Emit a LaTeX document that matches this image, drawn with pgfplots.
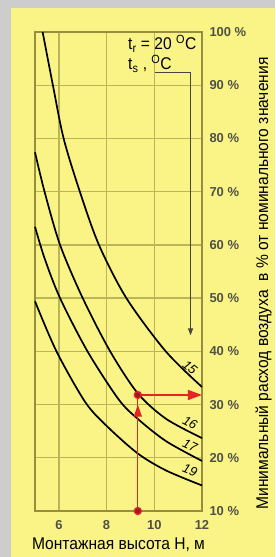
\documentclass[border=0pt]{standalone}
\usepackage{pgfplots}
\pgfplotsset{compat=1.18}
\usepackage{fontspec}
\setmainfont{Liberation Sans}
\newfontfamily\narrowfont[FakeStretch=0.92]{Liberation Sans}
\usetikzlibrary{arrows.meta,decorations.markings}
\definecolor{bggray}{RGB}{205,205,205}
\definecolor{bgyellow}{RGB}{249,244,133}
\definecolor{gridc}{RGB}{188,180,88}
\definecolor{framec}{RGB}{150,142,62}
\definecolor{tickc}{RGB}{80,80,70}
\definecolor{redc}{RGB}{226,38,38}
\definecolor{darkredc}{RGB}{160,25,40}
\definecolor{annc}{RGB}{70,70,60}

\begin{document}
\begin{tikzpicture}[x=1bp,y=1bp]
\fill[bggray] (0,0) rectangle (275,557);
\fill[bgyellow] (11,0) rectangle (275,549);
\path[use as bounding box] (0,0) rectangle (275,557);
\begin{axis}[
  at={(35bp,46bp)}, anchor=south west,
  scale only axis, width=167bp, height=479bp,
  xmin=5, xmax=12, ymin=10, ymax=100,
  xtick={6,8,10,12}, xticklabels={6,8,10,12},
  ytick={10,20,30,40,50,60,70,80,90,100},
  yticklabels={10 \%,20 \%,30 \%,40 \%,50 \%,60 \%,70 \%,80 \%,90 \%,100 \%},
  yticklabel pos=right,
  major tick length=0pt,
  grid=major, major grid style={gridc, line width=1.3bp},
  axis line style={framec, line width=1.6bp},
  tick label style={font=\fontsize{13}{15}\selectfont\bfseries, text=tickc},
  xticklabel style={anchor=base, yshift=-19bp},
  yticklabel style={anchor=west, xshift=4bp},
  /pgf/number format/assume math mode=true,
  clip=false,
]
% curves
\addplot[black, line width=1.7bp, smooth] coordinates {(5.32,100) (5.75,90) (6.2,80) (6.88,70) (7.68,60) (8.83,50) (10.48,40) (12,33.3)};
\addplot[black, line width=1.7bp, smooth] coordinates {(5,77.4) (5.4,70) (6.05,60) (7.0,50) (8.15,40) (9.31,32.1) (10.5,27.3) (12,23.7)};
\addplot[black, line width=1.7bp, smooth] coordinates {(5,63.4) (5.4,57.5) (6.05,50) (7.2,40) (8.5,31) (9.31,27.3) (10.5,23.1) (12,19.4)};
\addplot[black, line width=1.7bp, smooth] coordinates {(5,49.4) (5.9,40) (7.1,30.5) (8,26) (9.31,20.8) (10.5,17.6) (12,14.8)};
% curve labels
\node[rotate=-40, inner sep=0pt, font=\itshape\fontsize{13}{14}\selectfont] at (axis cs:11.5,37.0) {15};
\node[rotate=-28, inner sep=0pt, font=\itshape\fontsize{13}{14}\selectfont] at (axis cs:11.5,26.6) {16};
\node[rotate=-25, inner sep=0pt, font=\itshape\fontsize{13}{14}\selectfont] at (axis cs:11.5,22.3) {17};
\node[rotate=-22, inner sep=0pt, font=\itshape\fontsize{13}{14}\selectfont] at (axis cs:11.5,17.6) {19};
% annotation arrow
\addplot[annc, line width=1bp, -{Triangle[length=7bp,width=5bp]}] coordinates {(10.03,92.4) (11.52,92.4) (11.52,43.0)};
% red construction
\addplot[redc, line width=1.3bp, postaction={decorate},
  decoration={markings, mark=at position 0.917 with {\arrow{Triangle[length=12bp,width=8bp]}}}]
  coordinates {(9.31,10) (9.31,31.8)};
\addplot[redc, line width=1.3bp, -{Triangle[length=14bp,width=10bp]}] coordinates {(9.31,31.8) (12,31.8)};
\addplot[only marks, mark=*, mark size=3.5bp, mark options={draw=redc, fill=darkredc, line width=1.3bp}] coordinates {(9.31,10) (9.31,31.8)};
\end{axis}
% texts
\node[anchor=base west, inner sep=0, font=\narrowfont\fontsize{17}{19}\selectfont] at (128,507) {t\textsubscript{r} = 20 \textsuperscript{O}C};
\node[anchor=base west, inner sep=0, font=\narrowfont\fontsize{17}{19}\selectfont] at (128,487) {t\textsubscript{s} , \textsuperscript{O}C};
\node[anchor=base, inner sep=0, font=\narrowfont\fontsize{17}{19}\selectfont] at (118.5,7) {Монтажная высота H, м};
\node[rotate=90, anchor=base, inner sep=0, font=\narrowfont\fontsize{17}{19}\selectfont] at (268,273.5) {Минимальный расход воздуха\ \ в \% от номинального значения};
\end{tikzpicture}
\end{document}
